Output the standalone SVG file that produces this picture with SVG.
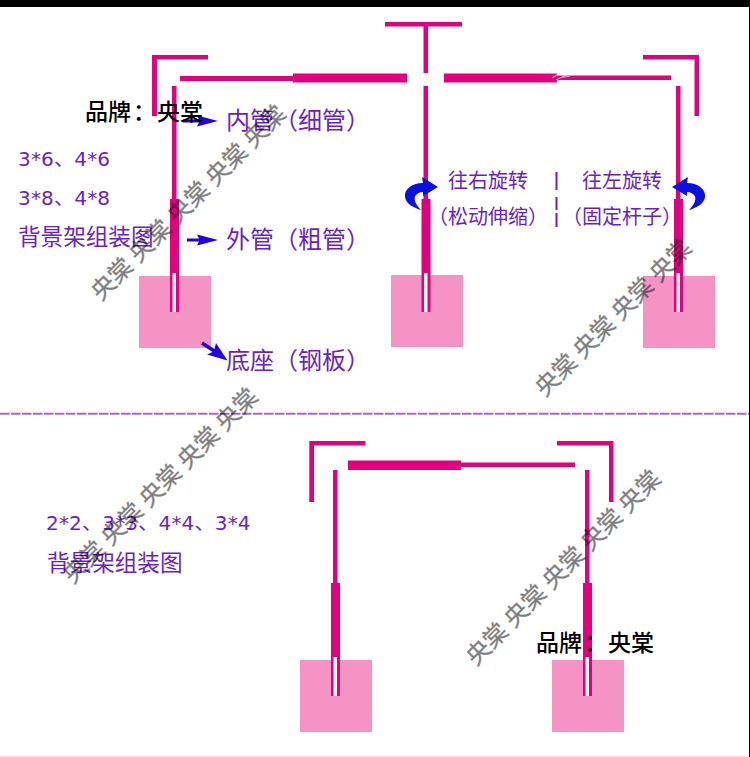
<svg xmlns="http://www.w3.org/2000/svg" width="750" height="757" viewBox="0 0 750 757">
<defs>
<style>
text{font-family:"Noto Sans CJK SC","DejaVu Sans",sans-serif}
.m{fill:#e2007f}
.b{fill:#f593c4}
.w{fill:#fff}
.p{fill:#6a1fc8}
.t20{font-size:20px}
.t22{font-size:22.6px}
.t24{font-size:24px}
.k{fill:#000;font-size:23px;font-weight:500}
.n{font-family:"DejaVu Sans","Noto Sans CJK SC",sans-serif;font-size:20px;letter-spacing:.2px}
.wm{fill:#000;stroke:#000;stroke-width:.3px;opacity:.5;font-size:24px;word-spacing:.6px}
.a{fill:#2200e0}
.c{fill:#0a10e0}
</style>
<g id="post"><rect class="m" x="0" y="0" width="4.5" height="114"/><rect class="m" x="-2" y="113" width="9" height="113"/><rect class="w" x="0.5" y="187" width="3.5" height="39"/></g>
</defs>
<rect width="750" height="757" fill="#fff"/>
<rect width="750" height="7" fill="#000"/>
<rect x="749" width="1" height="757" fill="#000"/>
<rect y="756" width="749" height="1" fill="#e4e4e4"/>

<g id="frame-top">
<g id="base-1"><rect class="b" x="139" y="276" width="72" height="72"/><use href="#post" x="172" y="86"/></g>
<g id="base-2"><rect class="b" x="391" y="275" width="72" height="72"/><use href="#post" x="423.5" y="86"/></g>
<g id="base-3"><rect class="b" x="643" y="276" width="72" height="72"/><use href="#post" x="676" y="86"/></g>
<g id="corner-left"><path class="m" d="M152 55H208V59.500H157V116H152Z"/></g>
<g id="corner-right"><path class="m" d="M643 55H699V116H694.500V59.500H643Z"/></g>
<g id="tee"><rect class="m" x="385" y="22" width="77" height="4.500"/><rect class="m" x="423.500" y="26" width="4.500" height="47"/></g>
<g id="beam-left"><rect class="m" x="180" y="76" width="113" height="5"/><rect class="m" x="293" y="73.500" width="114" height="9"/></g>
<g id="beam-right"><rect class="m" x="444" y="73.500" width="113" height="9"/><rect class="m" x="557" y="75.500" width="114" height="4.500"/></g>
</g>

<g id="divider"><line x1="0" y1="413.800" x2="749" y2="413.800" stroke="#ab66c8" stroke-width="2" stroke-dasharray="9.500 1.500"/></g>

<g id="frame-bottom">
<g id="base-4"><rect class="b" x="300" y="660" width="72" height="72"/><use href="#post" x="333" y="470"/></g>
<g id="base-5"><rect class="b" x="552" y="660" width="72" height="72"/><use href="#post" x="585" y="470"/></g>
<g id="corner-left-2"><path class="m" d="M309.300 441H365.500V445.500H314V502H309.300Z"/></g>
<g id="corner-right-2"><path class="m" d="M557 441H613.500V502H609V445.500H557Z"/></g>
<g id="beam-2"><rect class="m" x="348" y="460.500" width="113" height="9.500"/><rect class="m" x="461" y="462.500" width="114" height="4.500"/></g>
</g>

<g id="connectors">
<path class="a" d="M218 121L197 115.500L199 119.500H183V122.500H199L197 126.500Z"/>
<path class="a" d="M218 240L197 234.500L199 238.500H187V241.500H199L197 245.500Z"/>
<path class="a" d="M227.500 360.500L216 343L214.500 349L203 341.500L201 344.500L212.500 352L207 354.500Z"/>
<path id="turn-right" class="c" d="M438 187L422 177L423 183C411 183 404 190 405 197C406 204 414 208 421 210C415 204 413 198 416 195C418 193 420 192 423 192L423 196Z"/>
<path id="turn-left" class="c" transform="matrix(-1 0 0 1 1110 0)" d="M438 187L422 177L423 183C411 183 404 190 405 197C406 204 414 208 421 210C415 204 413 198 416 195C418 193 420 192 423 192L423 196Z"/>
</g>

<g id="sep" class="p"><rect x="555.500" y="172" width="2" height="18"/><rect x="555.500" y="197" width="2" height="13"/><rect x="555.500" y="213" width="2" height="14"/></g>

<g id="labels">
<text class="k" x="85" y="120">品牌<tspan x="133">：</tspan><tspan x="157">央棠</tspan></text>
<text class="k" x="536" y="650.500">品牌<tspan x="584">：</tspan><tspan x="608">央棠</tspan></text>
<text class="p t24" x="226" y="129">内管（细管）</text>
<text class="p t24" x="226" y="248">外管（粗管）</text>
<text class="p t24" x="226" y="369">底座（钢板）</text>
<text class="p n" x="18" y="166">3*6、4*6</text>
<text class="p n" x="18" y="205">3*8、4*8</text>
<text class="p t22" x="18" y="245">背景架组装图</text>
<text class="p n" x="46" y="530">2*2、3*3、4*4、3*4</text>
<text class="p t22" x="47" y="571">背景架组装图</text>
<text class="p t20" x="448" y="188">往右旋转</text>
<text class="p t20" x="428" y="224">（松动伸缩）</text>
<text class="p t20" x="582" y="188">往左旋转</text>
<text class="p t20" x="562" y="224">（固定杆子）</text>
</g>

<g id="watermarks">
<text class="wm" transform="translate(103 287) rotate(-45)" x="-12" y="9">央棠 央棠 央棠 央棠 央棠</text>
<text class="wm" transform="translate(75 570) rotate(-45)" x="-12" y="9">央棠 央棠 央棠 央棠 央棠</text>
<text class="wm" transform="translate(547 383) rotate(-45)" x="-12" y="9">央棠 央棠 央棠 央棠</text>
<text class="wm" transform="translate(478 652) rotate(-45)" x="-12" y="9">央棠 央棠 央棠 央棠 央棠</text>
<path d="M552 78L560 73M556 80L566 75M560 78L570 76" stroke="#fff" stroke-opacity=".6" stroke-width="1.200" fill="none"/>
</g>
</svg>
